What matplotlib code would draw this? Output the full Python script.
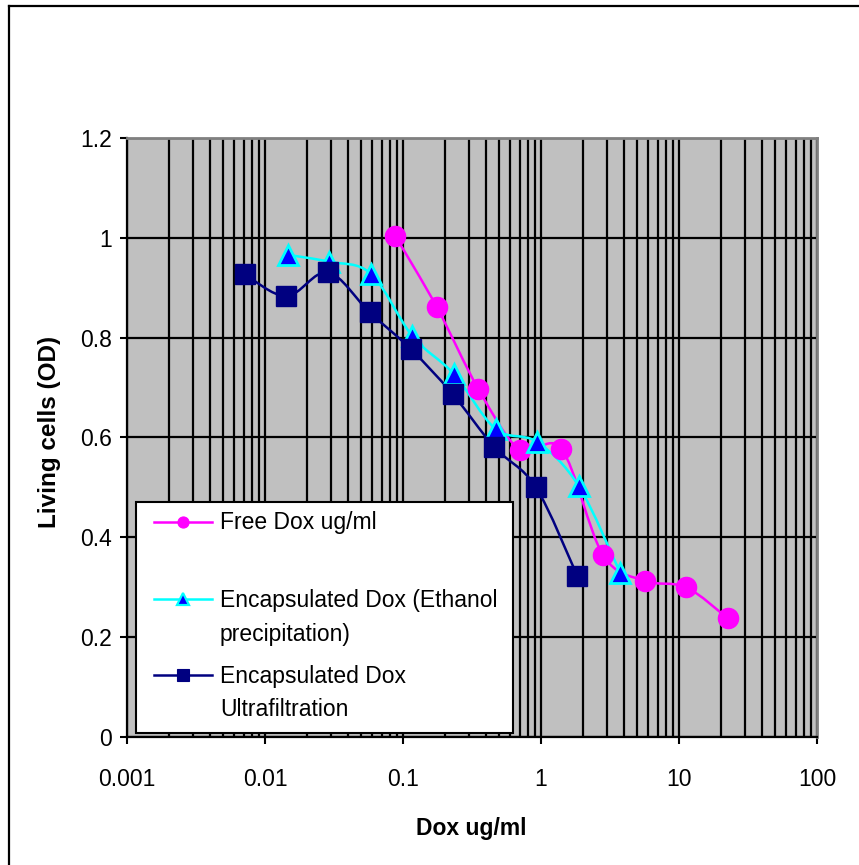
import numpy as np
import matplotlib
matplotlib.use("Agg")
import matplotlib.pyplot as plt
from matplotlib.path import Path
from matplotlib.patches import PathPatch, Rectangle
from matplotlib.lines import Line2D

plt.rcParams['font.family'] = ['Liberation Sans', 'DejaVu Sans']

# data
free_x = [0.0879, 0.176, 0.352, 0.703, 1.406, 2.81, 5.63, 11.25, 22.5]
free_y = [1.004, 0.861, 0.697, 0.575, 0.577, 0.365, 0.313, 0.300, 0.238]

eth_x = [0.0146, 0.0293, 0.0586, 0.117, 0.234, 0.469, 0.938, 1.875, 3.75]
eth_y = [0.966, 0.952, 0.928, 0.803, 0.727, 0.617, 0.591, 0.503, 0.329]

ultra_x = [0.00715, 0.0143, 0.0286, 0.0572, 0.114, 0.229, 0.458, 0.915, 1.83]
ultra_y = [0.927, 0.883, 0.931, 0.851, 0.777, 0.687, 0.581, 0.501, 0.323]

x_ticks = [0.001, 0.01, 0.1, 1, 10, 100]
x_tick_labels = ['0.001', '0.01', '0.1', '1', '10', '100']
y_ticks = [0, 0.2, 0.4, 0.6, 0.8, 1.0, 1.2]
y_tick_labels = ['0', '0.2', '0.4', '0.6', '0.8', '1', '1.2']

labels = ['Free Dox ug/ml',
          'Encapsulated Dox (Ethanol\nprecipitation)',
          'Encapsulated Dox\nUltrafiltration']

W, H = 859, 865


def px(x, y):
    return x / W, 1 - y / H


def smooth_path(xs, ys):
    # excel-like smoothed line: catmull-rom turned into cubic bezier, in log-x space
    lx = np.log10(xs)
    y = np.array(ys, dtype=float)
    pts = np.column_stack((lx, y))
    n = len(pts)
    verts = [pts[0]]
    codes = [Path.MOVETO]
    for i in range(n - 1):
        p0 = pts[i - 1] if i > 0 else pts[i]
        p1 = pts[i]
        p2 = pts[i + 1]
        p3 = pts[i + 2] if i + 2 < n else pts[i + 1]
        c1 = p1 + (p2 - p0) / 6.0
        c2 = p2 - (p3 - p1) / 6.0
        verts += [c1, c2, p2]
        codes += [Path.CURVE4] * 3
    verts = np.array(verts)
    verts[:, 0] = 10 ** verts[:, 0]
    return Path(verts, codes)


fig = plt.figure(figsize=(W / 100, H / 100), dpi=100)
ax = fig.add_axes([127 / W, 1 - 737 / H, (817 - 127) / W, (737 - 138) / H])
ax.set_facecolor('#C0C0C0')
ax.set_xscale('log')
ax.set_xlim(0.001, 100)
ax.set_ylim(0, 1.2)

ax.grid(True, which='both', axis='x', color='black', lw=1.6)
ax.grid(True, which='major', axis='y', color='black', lw=1.6)
ax.set_axisbelow(True)

ax.set_xticks(x_ticks)
ax.set_xticklabels(x_tick_labels)
ax.set_yticks(y_ticks)
ax.set_yticklabels(y_tick_labels)
ax.tick_params(axis='both', which='major', direction='out', length=5, width=1.5,
               labelsize=16.5, color='black')
ax.tick_params(axis='x', pad=17)
ax.tick_params(axis='y', pad=6)
ax.tick_params(axis='x', which='minor', length=0)

for s in ['top', 'right']:
    ax.spines[s].set_color('#808080')
    ax.spines[s].set_linewidth(2)
for s in ['left', 'bottom']:
    ax.spines[s].set_color('black')
    ax.spines[s].set_linewidth(1.6)

series = [
    (free_x, free_y, dict(color='#FF00FF', marker='o', mfc='#FF00FF', mec='#FF00FF', ms=14.5)),
    (eth_x, eth_y, dict(color='#00FFFF', marker='^', mfc='#0000FF', mec='#00FFFF', ms=15, mew=2)),
    (ultra_x, ultra_y, dict(color='#000080', marker='s', mfc='#000080', mec='#000080', ms=15)),
]

for xs, ys, st in series:
    ax.add_patch(PathPatch(smooth_path(xs, ys), fill=False, edgecolor=st['color'], lw=1.8, zorder=3))
    ax.plot(xs, ys, ls='none', marker=st['marker'], mfc=st['mfc'], mec=st['mec'],
            ms=st['ms'], mew=st.get('mew', 1), zorder=4)

ax.set_xlabel('Dox ug/ml', fontsize=16.5, fontweight='bold', va='center')
ax.xaxis.set_label_coords(*px(471, 828), transform=fig.transFigure)
ax.set_ylabel('Living cells (OD)', fontsize=17.5, fontweight='bold', va='center')
ax.yaxis.set_label_coords(*px(50, 432), transform=fig.transFigure)

# legend box drawn by hand to match the spacing
x0, y0 = px(136, 733)
x1, y1 = px(513, 502)
fig.patches.append(Rectangle((x0, y0), x1 - x0, y1 - y0, transform=fig.transFigure,
                             facecolor='white', edgecolor='black', lw=1.5, zorder=5))
handle_y = [522, 599, 675]
for (xs, ys, st), lab, hy in zip(series, labels, handle_y):
    (a, b), (c, d) = px(154, hy), px(212, hy)
    fig.lines.append(Line2D([a, c], [b, d], transform=fig.transFigure, color=st['color'],
                            lw=1.8, zorder=6))
    fig.lines.append(Line2D([(a + c) / 2], [b], transform=fig.transFigure, ls='none',
                            marker=st['marker'], mfc=st['mfc'], mec=st['mec'], ms=8,
                            mew=st.get('mew', 1) * 0.8, zorder=7))
    for k, line in enumerate(lab.split('\n')):
        tx, ty = px(220, hy + 1 + 34 * k)
        fig.text(tx, ty, line, fontsize=16.5, va='center', ha='left', zorder=7)

# outer chart border (right and bottom edges run off the image)
fig.lines.append(Line2D([px(9, 0)[0], px(9, 0)[0]], [px(0, 6)[1], 0], transform=fig.transFigure,
                        color='black', lw=1.6))
fig.lines.append(Line2D([px(9, 0)[0], 1], [px(0, 6)[1], px(0, 6)[1]], transform=fig.transFigure,
                        color='black', lw=1.6))

fig.savefig('out.png', dpi=100)
